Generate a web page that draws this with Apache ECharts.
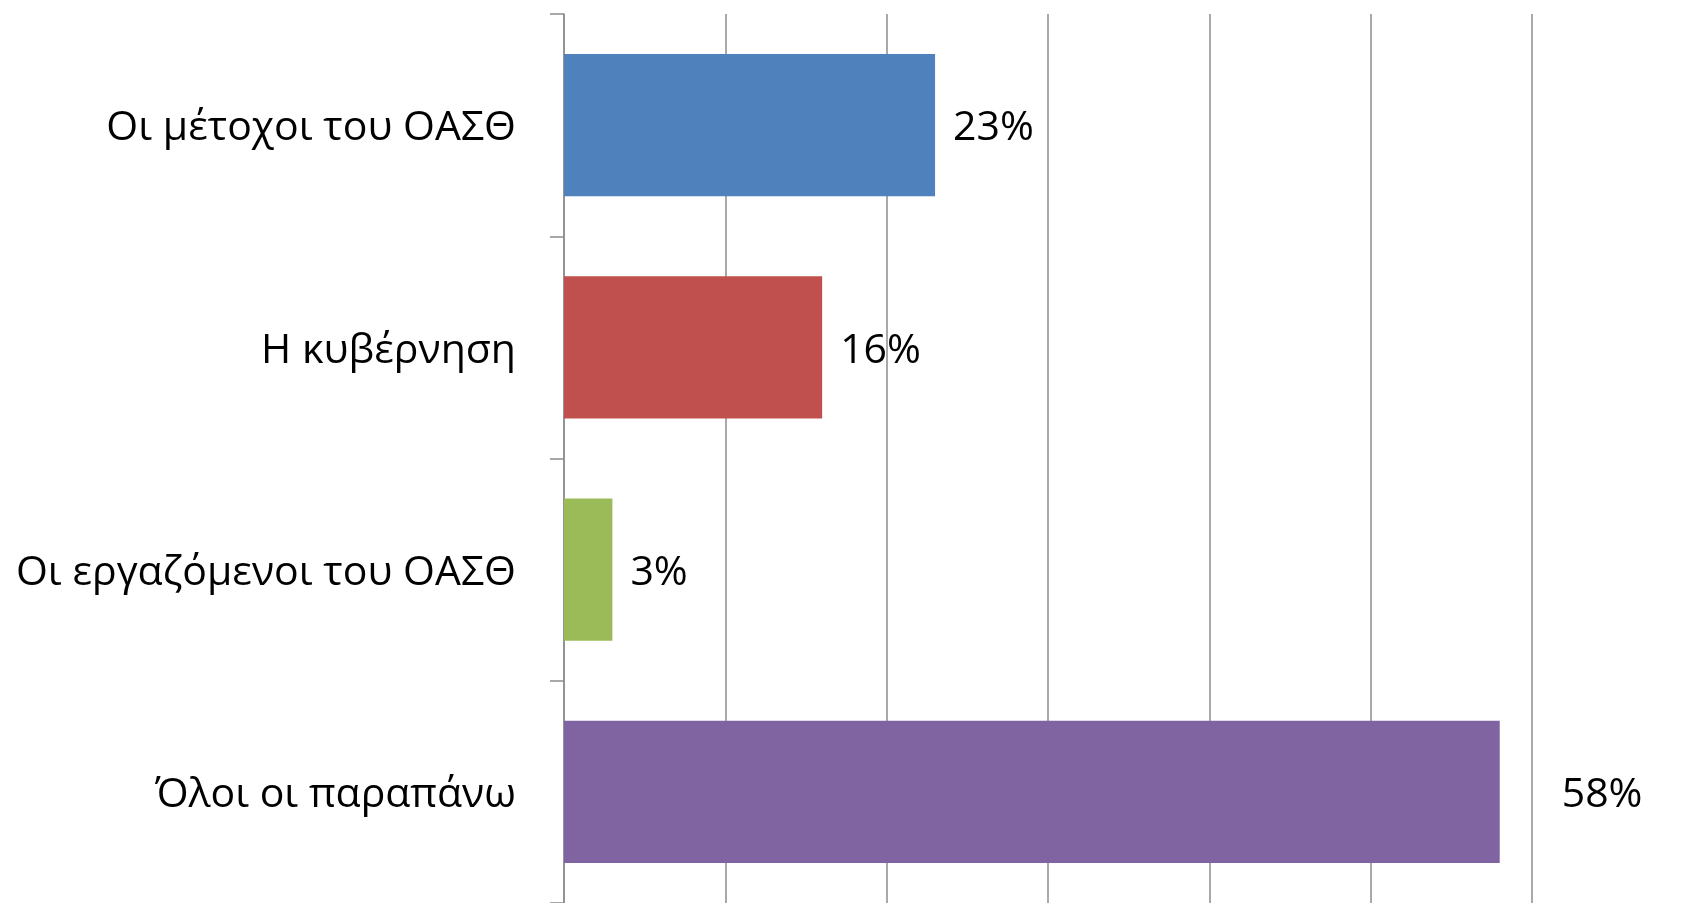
<!DOCTYPE html>
<html>
<head>
<meta charset="utf-8">
<script src="https://cdn.jsdelivr.net/npm/echarts@6/dist/echarts.min.js"></script>
<style>
html,body{margin:0;padding:0;background:#fff;}
#chart{width:1682px;height:903px;}
</style>
</head>
<body>
<div id="chart"></div>
<script>
const categories = ['Οι μέτοχοι του ΟΑΣΘ', 'Η κυβέρνηση', 'Οι εργαζόμενοι του ΟΑΣΘ', 'Όλοι οι παραπάνω'];
const values = [23, 16, 3, 58];
const colors = ['#4F81BD', '#C0504D', '#9BBB59', '#8064A2'];

const FONT = 'Open Sans';
const chart = echarts.init(document.getElementById('chart'), null, {renderer: 'canvas'});
const seriesData = values.map((v, i) => ({
  value: v,
  itemStyle: {color: colors[i]},
  label: {distance: i === 3 ? 62 : 18}
}));
const txt = {fontFamily: FONT, fontSize: 41, color: '#000', padding: [7, 0, 0, 0]};
chart.setOption({
  animation: false,
  backgroundColor: '#ffffff',
  grid: {left: 564, top: 14, width: 968, height: 895, containLabel: false},
  xAxis: {
    type: 'value', min: 0, max: 60, interval: 10,
    axisLine: {show: false}, axisTick: {show: false}, axisLabel: {show: false},
    splitLine: {show: true, lineStyle: {color: '#8c8c8c', width: 1.5}}
  },
  yAxis: {
    type: 'category', data: categories, inverse: true,
    axisLine: {show: true, lineStyle: {color: '#8c8c8c', width: 1.5}},
    axisTick: {show: true, length: 14, lineStyle: {color: '#8c8c8c', width: 1.5}},
    axisLabel: {margin: 48, formatter: v => '{t|' + v + '}', rich: {t: txt}},
    splitLine: {show: false}
  },
  series: [{
    type: 'bar', data: seriesData, barWidth: '64%',
    label: {
      show: true, position: 'right',
      formatter: p => '{t|' + p.value + '%}', rich: {t: txt}
    }
  }]
});
</script>
</body>
</html>
